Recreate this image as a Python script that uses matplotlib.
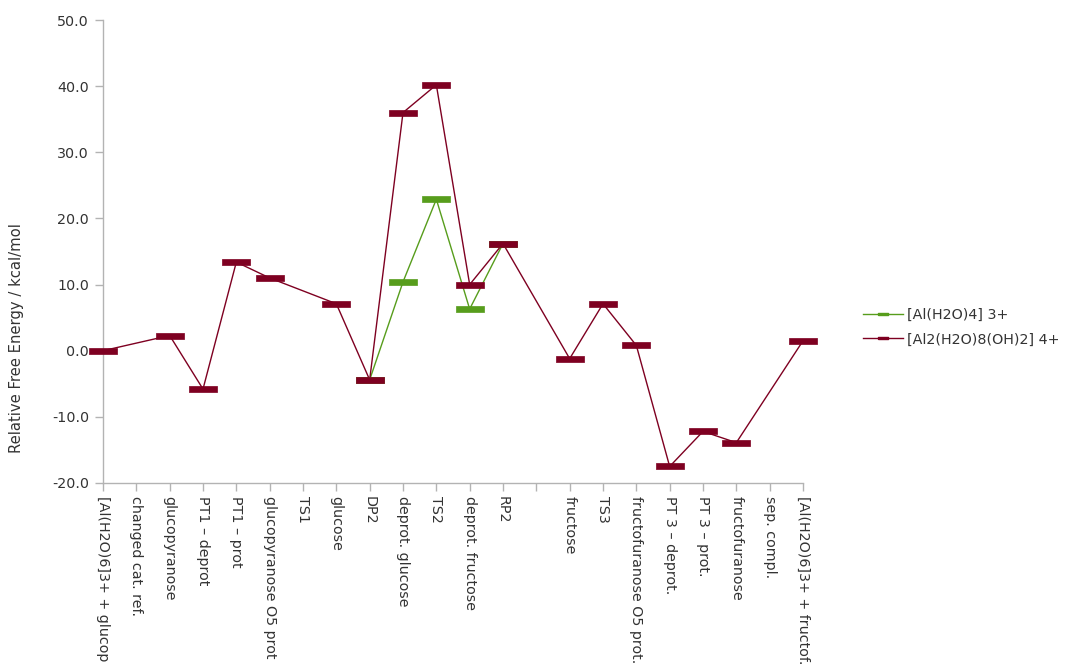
import numpy as np
import matplotlib
matplotlib.use("Agg")
import matplotlib.pyplot as plt
from matplotlib.lines import Line2D

plt.rcParams['font.family'] = ['DejaVu Sans']
plt.rcParams['axes.unicode_minus'] = False

categories = [
    "[Al(H2O)6]3+ + glucop", "changed cat. ref.", "glucopyranose", "PT1 – deprot",
    "PT1 – prot", "glucopyranose O5 prot", "TS1", "glucose", "DP2",
    "deprot. glucose", "TS2", "deprot. fructose", "RP2", "", "fructose", "TS3",
    "fructofuranose O5 prot.", "PT 3 – deprot.", "PT 3 – prot.", "fructofuranose",
    "sep. compl.", "[Al(H2O)6]3+ + fructof.",
]
nan = np.nan
al_h2o4 = [nan, nan, nan, nan, nan, nan, nan, nan, -4.4, 10.4, 22.9, 6.3, 16.2,
           nan, nan, nan, nan, nan, nan, nan, nan, nan]
al2_dimer = [0.0, nan, 2.3, -5.8, 13.4, 11.0, nan, 7.1, -4.4, 36.0, 40.2, 10.0, 16.2,
             nan, -1.2, 7.1, 0.8, -17.5, -12.2, -13.9, nan, 1.5]
series_names = ["[Al(H2O)4] 3+", "[Al2(H2O)8(OH)2] 4+"]
series_colors = ["#579d1c", "#7e0021"]

text_color = "#333333"
axis_color = "#b3b3b3"
fs = 10.3
bar_marker = [(-1, -0.22), (1, -0.22), (1, 0.22), (-1, 0.22), (-1, -0.22)]

fig = plt.figure(figsize=(10.68, 6.69), dpi=100)
ax = fig.add_axes([103 / 1068, 1 - 483 / 669, 700 / 1068, 463 / 669])

x = np.arange(len(categories))
for vals, col, z in zip([al_h2o4, al2_dimer], series_colors, [2, 3]):
    v = np.array(vals, dtype=float)
    m = ~np.isnan(v)
    ax.plot(x[m], v[m], color=col, lw=1.0, zorder=z)
    ax.plot(x[m], v[m], linestyle='none', marker=bar_marker, markersize=20,
            markerfacecolor=col, markeredgecolor=col, markeredgewidth=0.5,
            zorder=z + 2, clip_on=False)

ax.set_xlim(0, len(categories) - 1)
ax.set_ylim(-20, 50)
ax.set_yticks(np.arange(-20, 51, 10))
ax.set_yticklabels([f"{t:.1f}" for t in np.arange(-20, 51, 10)])
ax.set_xticks(x)
ax.set_xticklabels(categories, rotation=-90, ha='center', va='top')

for s in ['top', 'right']:
    ax.spines[s].set_visible(False)
for s in ['left', 'bottom']:
    ax.spines[s].set_color(axis_color)
    ax.spines[s].set_linewidth(1.0)
ax.tick_params(axis='both', colors=axis_color, direction='out', length=6, width=1,
               labelcolor=text_color, labelsize=fs)
ax.tick_params(axis='y', pad=4)
ax.tick_params(axis='x', pad=3)

fig.text(17 / 1068, 1 - 338 / 669, "Relative Free Energy / kcal/mol", rotation=90,
         ha='center', va='center', fontsize=fs + 0.3, color=text_color)

handles = [Line2D([0], [0], color=c, lw=1.0, marker=bar_marker, markersize=7,
                  markerfacecolor=c, markeredgecolor=c) for c in series_colors]
fig.legend(handles, series_names, loc='center left',
           bbox_to_anchor=(863 / 1068, 1 - 327 / 669), frameon=False,
           fontsize=fs, labelcolor=text_color, handlelength=2.8,
           handletextpad=0.3, labelspacing=0.75, borderpad=0, borderaxespad=0)

fig.savefig("out.png", dpi=100)
